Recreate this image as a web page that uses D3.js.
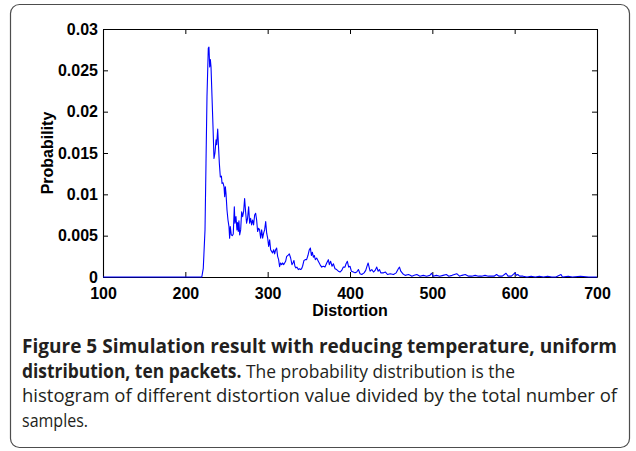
<!DOCTYPE html>
<html>
<head>
<meta charset="utf-8">
<script src="https://cdn.jsdelivr.net/npm/d3@7"></script>
<style>
html,body{margin:0;padding:0;background:#fff;}
svg{display:block;}
</style>
</head>
<body>
<svg id="chart" width="636" height="451"></svg>
<script>
// ---- data ----
const distortion = [
 100, 219, 220, 221.8, 223.9, 225.1, 226.3, 227.9, 228.7, 229.6, 230.4, 231.2, 232.4, 233.6, 234.8,
 236, 237.3, 238.1, 239.3, 240.5, 241.3, 242.5, 243.8, 244.6, 245.8, 247, 247.8, 248.6, 249.4,
 250.6, 251.8, 253, 253.8, 254.6, 255.8, 257, 258.2, 259.5, 260.3, 261.5, 262.7, 263.5, 264.3,
 265.1, 266, 267.2, 268.4, 269.6, 270.8, 272, 273.2, 274.4, 275.6, 276.9, 278.1, 279.3, 280.5,
 281.7, 282.9, 284.2, 285.4, 286.6, 287.8, 289, 290.2, 291.5, 292.7, 293.9, 295.1, 296.3, 297.6,
 298.8, 300, 301.2, 302.4, 303.6, 304.8, 306, 307.3, 308.5, 309.7, 310.9, 312.1, 313.3, 314.5,
 315.7, 317, 318.2, 319.4, 320.6, 321.8, 323.1, 324.6, 326.3, 327.9, 329.5, 330.7, 331.9, 333.1,
 334.3, 335.5, 337.2, 338.5, 340, 341.2, 342.4, 344.1, 345.7, 347.3, 348.9, 350.6, 351.9, 353.1,
 354.3, 355.5, 356.7, 357.9, 359.5, 361.5, 363.6, 365.6, 367.6, 369.6, 371.7, 373.7, 374.9, 376.5,
 378.2, 379.8, 381.8, 383.8, 385.9, 387.9, 389.9, 391.9, 393.9, 395.2, 396.8, 398.4, 400, 401.7,
 404.1, 406.1, 408.2, 410.2, 412.2, 414.3, 417.1, 419.1, 420.3, 422, 423.2, 424.4, 426.5, 428.5,
 430.5, 432.5, 434.2, 435.8, 437.4, 440.7, 443.1, 445.5, 448.8, 452.8, 456.1, 458.7, 460.1, 461.7,
 464.1, 467, 471, 473.1, 475.1, 478, 481.2, 485, 489, 493, 497, 499, 501, 505, 509, 513, 517, 520,
 524, 529.6, 533, 536, 540, 544, 548, 552, 556, 560, 564, 568, 572, 575, 578, 581, 585, 589.5, 592,
 596, 600.4, 602, 603.7, 606, 610, 615, 620, 625, 630, 635, 640, 645, 650, 656.3, 658, 665, 670,
 680, 690, 700
];
const probability = [
 0, 0, 0, 0.00105, 0.0057, 0.01375, 0.0218, 0.0277, 0.0278, 0.0254, 0.0263, 0.0254, 0.0218, 0.0182, 0.01435,
 0.0150, 0.0166, 0.0160, 0.0179, 0.01536, 0.01375, 0.0121, 0.0122, 0.01133, 0.0114, 0.0109, 0.0097, 0.0109, 0.0101,
 0.0081, 0.0069, 0.0061, 0.0047, 0.0061, 0.0051, 0.0050, 0.0052, 0.0085, 0.0065, 0.0073, 0.0057, 0.0066, 0.0055,
 0.0068, 0.0051, 0.0057, 0.0079, 0.0073, 0.0079, 0.0095, 0.0079, 0.0065, 0.0071, 0.0085, 0.0065, 0.0071, 0.0063,
 0.0069, 0.0063, 0.0075, 0.0077, 0.0069, 0.0055, 0.0059, 0.0057, 0.0047, 0.0057, 0.0047, 0.0053, 0.0057, 0.0067,
 0.0053, 0.0047, 0.0037, 0.0045, 0.0033, 0.0031, 0.0029, 0.0033, 0.0028, 0.0033, 0.0035, 0.0025, 0.0021, 0.00125,
 0.0017, 0.0015, 0.0017, 0.0015, 0.0017, 0.0019, 0.0025, 0.0026, 0.0028, 0.0023, 0.0015, 0.0017, 0.0020, 0.0013,
 0.0011, 0.0012, 0.0009, 0.0010, 0.0009, 0.0010, 0.0013, 0.0020, 0.0021, 0.0021, 0.0026, 0.0033, 0.0035, 0.0026,
 0.0030, 0.0024, 0.0026, 0.0021, 0.0023, 0.0019, 0.0015, 0.0012, 0.0013, 0.0012, 0.0017, 0.0021, 0.0015, 0.0019,
 0.0013, 0.0016, 0.0010, 0.0009, 0.0007, 0.0006, 0.0008, 0.0012, 0.0012, 0.0016, 0.0019, 0.0012, 0.0013, 0.0007,
 0.0006, 0.0005, 0.0006, 0.0009, 0.0004, 0.0003, 0.0005, 0.0008, 0.0012, 0.0017, 0.0012, 0.0007, 0.0009, 0.0006,
 0.0008, 0.0012, 0.0007, 0.0009, 0.0005, 0.0005, 0.0006, 0.0003, 0.0004, 0.0003, 0.0005, 0.0010, 0.0012, 0.0007,
 0.0004, 0.0002, 0.0003, 0.0002, 0.0001, 0.0002, 0.0003, 0.0001, 0.0002, 0.0001, 0.0002, 0.00045, 0.0001, 0.0002, 0.0001, 0.0002, 0.0003, 0.0001,
 0.0002, 0.0004, 0.0001, 0.0002, 0.0003, 0.0001, 0.0001, 0.0002, 0.0001, 0.0001, 0.0002, 0.0001, 0.0001, 0.0001, 0.0003, 0.0001, 0.0001, 0.00045, 0.0001,
 0.0001, 0.0005, 0.0002, 0.0003, 0.0001, 0.0001, 0, 0.0001, 0, 0.0001, 0, 0.0001, 0, 0, 0.0003, 0, 0.0001, 0,
 0.0001, 0, 0
];
const xTickValues = [100, 200, 300, 400, 500, 600, 700];
const xTickLabels = ["100", "200", "300", "400", "500", "600", "700"];
const yTickValues = [0, 0.005, 0.01, 0.015, 0.02, 0.025, 0.03];
const yTickLabels = ["0", "0.005", "0.01", "0.015", "0.02", "0.025", "0.03"];
const xTitle = "Distortion";
const yTitle = "Probability";
const captionBold = ["Figure 5 Simulation result with reducing temperature, uniform", "distribution, ten packets."];
const captionRegular = [" The probability distribution is the",
  "histogram of different distortion value divided by the total number of", "samples."];

// ---- layout ----
const svg = d3.select("#chart");
const L = 103, R = 597, T = 29, B = 277;

// frame
svg.append("rect").attr("x", 10.5).attr("y", 4.5).attr("width", 619).attr("height", 443)
  .attr("rx", 9).attr("ry", 9).attr("fill", "none").attr("stroke", "#4d4d4d").attr("stroke-width", 1.2);

const x = d3.scaleLinear().domain([100, 700]).range([L, R]);
const y = d3.scaleLinear().domain([0, 0.03]).range([B, T]);

const tickFont = "'Liberation Sans', Arial, Helvetica, sans-serif";
const tickSize = 16;

function styleAxis(g) {
  g.selectAll("path.domain").attr("stroke", "#000").attr("stroke-width", 1.1);
  g.selectAll(".tick line").attr("stroke", "#000").attr("stroke-width", 1);
  g.selectAll(".tick text").attr("font-family", tickFont).attr("font-weight", "bold")
    .attr("font-size", tickSize).attr("fill", "#000");
}

svg.append("g").attr("transform", `translate(0,${B})`)
  .call(d3.axisBottom(x).tickValues(xTickValues).tickFormat((d, i) => xTickLabels[i])
    .tickSize(-5).tickSizeOuter(0).tickPadding(10.5)).call(styleAxis);
svg.append("g").attr("transform", `translate(0,${T})`)
  .call(d3.axisTop(x).tickValues(xTickValues).tickFormat(() => "")
    .tickSize(-5).tickSizeOuter(0)).call(styleAxis);
svg.append("g").attr("transform", `translate(${L},0)`)
  .call(d3.axisLeft(y).tickValues(yTickValues).tickFormat((d, i) => yTickLabels[i])
    .tickSize(-5).tickSizeOuter(0).tickPadding(5)).call(styleAxis);
svg.append("g").attr("transform", `translate(${R},0)`)
  .call(d3.axisRight(y).tickValues(yTickValues).tickFormat(() => "")
    .tickSize(-5).tickSizeOuter(0)).call(styleAxis);

// titles
svg.append("text").attr("x", (L + R) / 2).attr("y", 316).attr("text-anchor", "middle")
  .attr("font-family", tickFont).attr("font-weight", "bold").attr("font-size", tickSize).text(xTitle);
svg.append("text").attr("transform", `translate(53,${(T + B) / 2}) rotate(-90)`)
  .attr("text-anchor", "middle").attr("font-family", tickFont).attr("font-weight", "bold")
  .attr("font-size", tickSize).text(yTitle);

// series line
const pts = distortion.map((d, i) => [d, probability[i]]);
svg.append("path").datum(pts)
  .attr("fill", "none").attr("stroke", "#0000ff").attr("stroke-width", 1.1)
  .attr("stroke-linejoin", "round")
  .attr("d", d3.line().x(d => x(d[0])).y(d => y(d[1])));

// caption
const capFont = "'Open Sans', 'Noto Sans', sans-serif";
const capSize = 19;
const capX = 22;
const lines = [
  {y: 353, parts: [[captionBold[0], 700]], w: 595},
  {y: 377.5, parts: [[captionBold[1], 700], [captionRegular[0], 400]], w: 493},
  {y: 402, parts: [[captionRegular[1], 400]], w: 595},
  {y: 426.5, parts: [[captionRegular[2], 400]], w: 66}
];
lines.forEach(ln => {
  const t = svg.append("text").attr("x", capX).attr("y", ln.y)
    .attr("font-family", capFont).attr("font-size", capSize).attr("fill", "#231f20")
    .attr("textLength", ln.w).attr("lengthAdjust", "spacingAndGlyphs");
  ln.parts.forEach(p => t.append("tspan").attr("font-weight", p[1]).text(p[0]));
});
</script>
</body>
</html>
